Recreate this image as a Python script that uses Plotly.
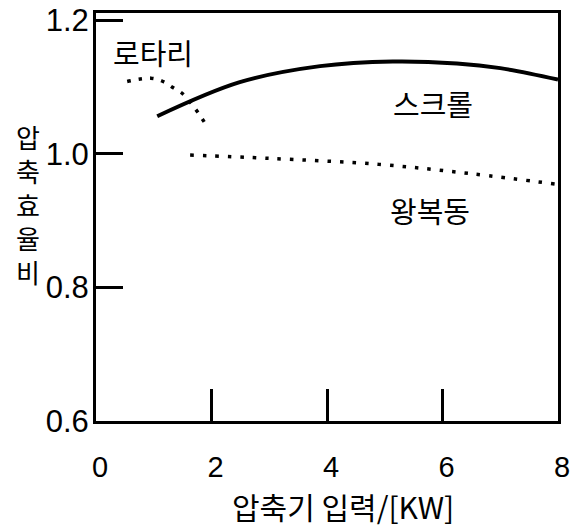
import plotly.graph_objects as go

# Data
scroll_x = [1.06, 2.49, 3.88, 5.14, 6.25, 7.0, 8.0]
scroll_y = [1.056, 1.107, 1.131, 1.138, 1.135, 1.128, 1.111]

rotary_x = [0.54, 0.95, 1.16, 1.33, 1.51, 1.65, 1.77, 1.90]
rotary_y = [1.108, 1.113, 1.108, 1.099, 1.089, 1.075, 1.061, 1.044]

recip_x = [1.63, 3.0, 4.9, 6.5, 8.0]
recip_y = [0.998, 0.993, 0.984, 0.970, 0.954]

x_ticks = [0, 2, 4, 6, 8]
y_ticks = [0.6, 0.8, 1.0, 1.2]
y_tick_text = ["0.6", "0.8", "1.0", "1.2"]
y_title_chars = ["압", "축", "효", "율", "비"]

FONT = "Liberation Sans, Arial, Noto Sans CJK KR"
KFONT = "Noto Sans CJK KR, Liberation Sans"

W, H = 577, 527
ML, MR, MT, MB = 96, 19, 13, 106
PH = H - MT - MB

fig = go.Figure()
fig.add_trace(go.Scatter(x=scroll_x, y=scroll_y, mode="lines",
                         line=dict(color="black", width=4, shape="spline"),
                         showlegend=False, hoverinfo="skip"))
fig.add_trace(go.Scatter(x=rotary_x, y=rotary_y, mode="lines",
                         line=dict(color="black", width=3.5, shape="spline", dash="3.5px,8px"),
                         showlegend=False, hoverinfo="skip"))
fig.add_trace(go.Scatter(x=recip_x, y=recip_y, mode="lines",
                         line=dict(color="black", width=3.5, shape="spline", dash="3.5px,9px"),
                         showlegend=False, hoverinfo="skip"))

fig.update_layout(
    template="none",
    width=W, height=H,
    margin=dict(l=ML, r=MR, t=MT, b=MB, pad=0, autoexpand=False),
    plot_bgcolor="white", paper_bgcolor="white",
    font=dict(family=FONT, color="black"),
    xaxis=dict(range=[0, 8], tickvals=x_ticks, ticktext=[str(v) for v in x_ticks],
               ticks="inside", ticklen=32, tickwidth=3, tickcolor="black",
               showline=True, linewidth=3, linecolor="black", mirror=True,
               showgrid=False, zeroline=False, automargin=False,
               tickfont=dict(size=29, family=FONT), ticklabelstandoff=18, ticklabelshift=4),
    yaxis=dict(range=[0.6, 1.2105], tickvals=y_ticks, ticktext=y_tick_text,
               ticks="inside", ticklen=27, tickwidth=3, tickcolor="black",
               showline=True, linewidth=3, linecolor="black", mirror=True,
               showgrid=False, zeroline=False, ticklabeloverflow="allow", automargin=False,
               tickfont=dict(size=31, family=FONT), ticklabelstandoff=-2),
)

def py_to_paper(page_y):
    return 1 - (page_y - MT) / PH

def px_to_paper(page_x):
    return (page_x - ML) / (W - ML - MR)

def label(text, px, py, size):
    fig.add_annotation(text=text, xref="paper", yref="paper",
                       x=px_to_paper(px), y=py_to_paper(py),
                       xanchor="center", yanchor="middle", showarrow=False,
                       font=dict(size=size, family=KFONT))

# x axis title
label("압축기 입력/[KW]", 343, 506, 30)

# vertical y title, one character per line
label("<br>".join(y_title_chars), 27.5, 204, 26)

# series labels
label("로타리", 153, 52, 29)
label("스크롤", 433, 103, 29)
label("왕복동", 430, 210, 29)

fig.write_html("out.html", config={"displayModeBar": False},
               post_script="document.body.style.margin='0px';")
